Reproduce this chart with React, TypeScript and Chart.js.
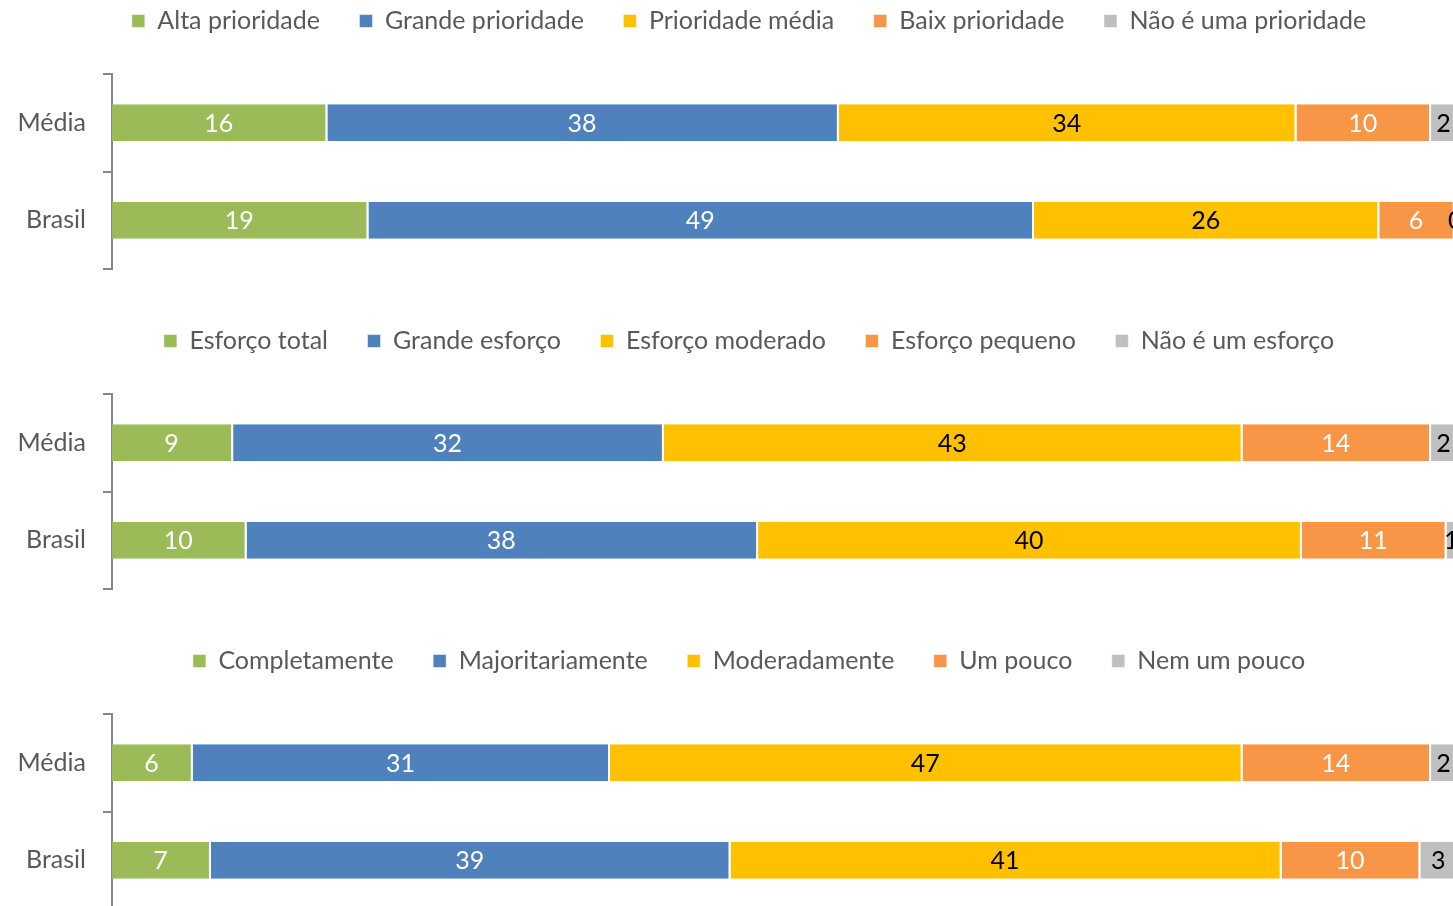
import React, { useEffect, useRef } from 'react';
import { Chart, registerables } from 'chart.js';

Chart.register(...registerables);

// ---------- data ----------
const rowLabels = ['Média', 'Brasil'];

const priorityLegend = ['Alta prioridade', 'Grande prioridade', 'Prioridade média', 'Baix prioridade', 'Não é uma prioridade'];
const priorityMedia = [16, 38, 34, 10, 2];
const priorityBrasil = [19.05, 49.45, 25.65, 5.6, 0.25];

const effortLegend = ['Esforço total', 'Grande esforço', 'Esforço moderado', 'Esforço pequeno', 'Não é um esforço'];
const effortMedia = [9, 32, 43, 14, 2];
const effortBrasil = [10, 38, 40.4, 10.75, 0.85];

const extentLegend = ['Completamente', 'Majoritariamente', 'Moderadamente', 'Um pouco', 'Nem um pouco'];
const extentMedia = [6, 31, 47, 14, 2];
const extentBrasil = [7.35, 38.6, 40.95, 10.3, 2.8];

const seriesColors = ['#9BBB59', '#4F81BD', '#FFC000', '#F79646', '#BFBFBF'];
const valueLabelColors = ['#FFFFFF', '#FFFFFF', '#000000', '#FFFFFF', '#000000'];

// ---------- style constants ----------
const FONT = 'Lato';
const FONT_SIZE = 25;
const TEXT_GRAY = '#595959';
const AXIS_GRAY = '#868686';
const CANVAS_W = 1498;
const CANVAS_H = 320;
const LEGEND_PAD = 39.5;
const LAYOUT_TOP = -31;

const legendHeightPlugin = {
  id: 'legendHeight',
  beforeInit(chart: any) {
    const legend = chart.legend;
    if (!legend) return;
    const origFit = legend.fit;
    legend.fit = function () {
      origFit.call(this);
      this.height = 74 - LAYOUT_TOP;
    };
  },
};

const valueLabelPlugin = {
  id: 'valueLabels',
  afterDatasetsDraw(chart: any) {
    const ctx = chart.ctx;
    ctx.save();
    ctx.font = `${FONT_SIZE}px ${FONT}`;
    ctx.textAlign = 'center';
    ctx.textBaseline = 'middle';
    chart.data.datasets.forEach((ds: any, i: number) => {
      const meta = chart.getDatasetMeta(i);
      meta.data.forEach((bar: any, j: number) => {
        const { x, base, y } = bar.getProps(['x', 'base', 'y'], true);
        ctx.fillStyle = valueLabelColors[i];
        ctx.fillText(String(Math.round(ds.data[j])), (x + base) / 2 - 1, y + 1);
      });
    });
    ctx.restore();
  },
};

function StackedChart({ legend, media, brasil, top }: { legend: string[]; media: number[]; brasil: number[]; top: number }) {
  const ref = useRef<HTMLCanvasElement | null>(null);
  useEffect(() => {
    if (!ref.current) return;
    const chart = new Chart(ref.current, {
      type: 'bar',
      data: {
        labels: rowLabels,
        datasets: legend.map((name, i) => ({
          label: name,
          data: [media[i], brasil[i]],
          backgroundColor: seriesColors[i],
          borderColor: '#FFFFFF',
          borderWidth: { top: 0, bottom: 0, left: 0, right: 2 },
          borderSkipped: false,
          barPercentage: 0.38,
          categoryPercentage: 1,
          yAxisID: 'y',
        })),
      },
      options: {
        indexAxis: 'y',
        responsive: false,
        animation: false,
        devicePixelRatio: 1,
        layout: { padding: { top: LAYOUT_TOP, bottom: 51, left: 0, right: 0 } },
        plugins: {
          legend: {
            display: true,
            position: 'top',
            align: 'center',
            labels: {
              font: { family: FONT, size: FONT_SIZE },
              color: TEXT_GRAY,
              boxWidth: 13,
              boxHeight: 13,
              padding: LEGEND_PAD,
            },
          },
          tooltip: { enabled: false },
        },
        scales: {
          x: {
            stacked: true,
            display: false,
            min: 0,
            max: 100,
          },
          y: {
            stacked: true,
            position: 'left',
            grid: {
              display: true,
              drawOnChartArea: false,
              drawTicks: true,
              tickLength: 9,
              color: AXIS_GRAY,
              lineWidth: 2,
              offset: true,
            },
            border: { display: true, color: AXIS_GRAY, width: 2 },
            ticks: {
              color: TEXT_GRAY,
              font: { family: FONT, size: FONT_SIZE },
              padding: 17,
            },
            afterFit: (s: any) => {
              s.width = 112;
            },
          },
          yRight: {
            type: 'category',
            position: 'right',
            display: true,
            grid: { display: false },
            border: { display: false },
            ticks: { display: false },
            afterFit: (s: any) => {
              s.width = 40;
            },
          },
        },
      },
      plugins: [legendHeightPlugin, valueLabelPlugin],
    } as any);
    return () => chart.destroy();
  }, []);
  return (
    <canvas
      ref={ref}
      width={CANVAS_W}
      height={CANVAS_H}
      style={{ position: 'absolute', left: 0, top, width: CANVAS_W, height: CANVAS_H, display: 'block' }}
    />
  );
}

export default function App() {
  return (
    <div
      style={{
        position: 'fixed',
        left: 0,
        top: 0,
        width: 1453,
        height: 906,
        overflow: 'hidden',
        background: '#FFFFFF',
      }}
    >
      <StackedChart legend={priorityLegend} media={priorityMedia} brasil={priorityBrasil} top={0} />
      <StackedChart legend={effortLegend} media={effortMedia} brasil={effortBrasil} top={320} />
      <StackedChart legend={extentLegend} media={extentMedia} brasil={extentBrasil} top={640} />
    </div>
  );
}
